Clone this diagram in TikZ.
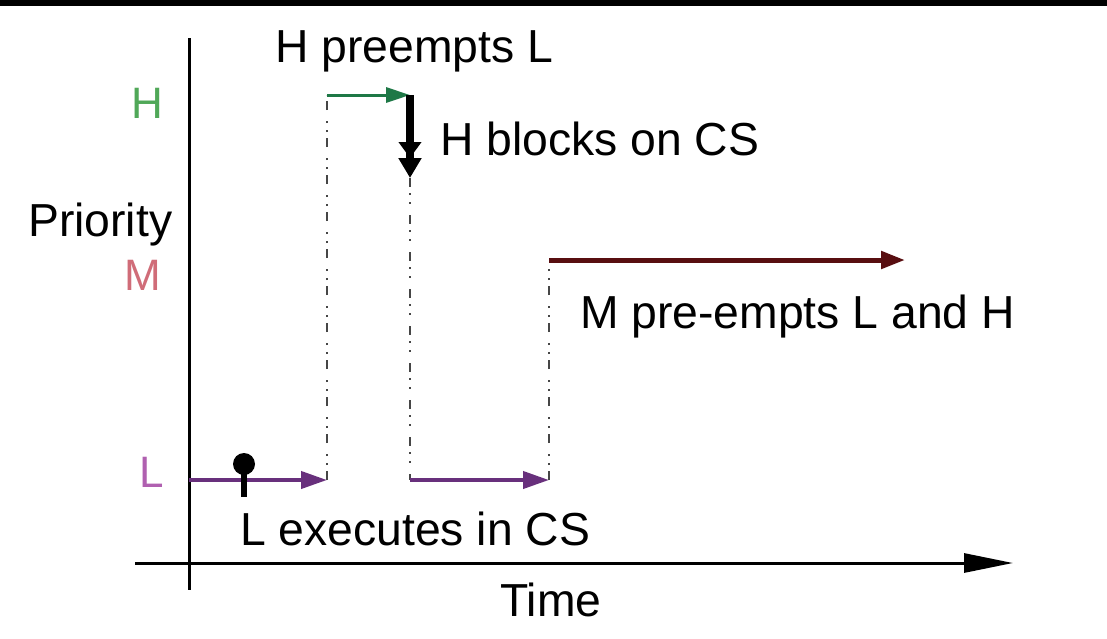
\documentclass[tikz,border=0pt]{standalone}
\usepackage{fontspec}
\setmainfont{Liberation Sans}
\usetikzlibrary{arrows.meta}
\definecolor{hlab}{RGB}{80,168,88}
\definecolor{mlab}{RGB}{208,108,120}
\definecolor{llab}{RGB}{176,96,176}
\definecolor{harr}{RGB}{30,120,70}
\definecolor{larr}{RGB}{104,48,124}
\definecolor{marr}{RGB}{88,14,16}
\definecolor{dashc}{RGB}{70,70,70}
\tikzset{
  txt/.style={anchor=base west,inner sep=0pt,font=\fontsize{46.3}{55}\selectfont},
  lev/.style={anchor=base west,inner sep=0pt,font=\fontsize{44}{52}\selectfont},
  axis/.style={line width=3pt,black},
  guide/.style={line width=2pt,dashc,dash pattern=on 9pt off 6pt on 2pt off 7pt on 2pt off 11pt},
  runarr/.style={line width=4pt,-{Triangle[length=26pt,width=17pt]}},
}
\begin{document}
\begin{tikzpicture}[x=1pt,y=-1pt]
\useasboundingbox (0,0) rectangle (1107,638);
\fill[white] (0,0) rectangle (1107,638);
\fill[black] (0,0) rectangle (1107,6);
% coordinates
\coordinate (ytop) at (189,38);
\coordinate (ybot) at (189,590);
\coordinate (xl) at (135,563);
\coordinate (xr) at (1013,563);
\coordinate (l0) at (189,480);
\coordinate (l1) at (327,480);
\coordinate (h0) at (327,95);
\coordinate (h1) at (410,95);
\coordinate (hb) at (410,178);
\coordinate (l2) at (410,480);
\coordinate (l3) at (549,480);
\coordinate (m0) at (549,260);
\coordinate (m1) at (905,260);
\coordinate (pin) at (244,464);
\coordinate (pinb) at (244,497);
% axes
\draw[axis] (ytop) -- (ybot);
\draw[axis,-{Triangle[length=49pt,width=19pt]}] (xl) -- (xr);
% guides
\draw[guide] (l1) -- (h0);
\draw[guide] (hb) -- (l2);
\draw[guide] (l3) -- (m0);
% runs
\draw[runarr,larr] (l0) -- (l1);
\draw[runarr,larr] (l2) -- (l3);
\draw[line width=3pt,harr,-{Triangle[length=24pt,width=15pt]}] (h0) -- (h1);
\draw[line width=8pt,black,-{Triangle[length=16pt,width=22pt]Triangle[length=20pt,width=22pt]}] (h1) -- (hb);
\draw[line width=5pt,marr,-{Triangle[length=24pt,width=17pt]}] (m0) -- (m1);
% pin
\draw[line width=6pt,black] (pin) -- (pinb);
\fill[black] (pin) circle (11pt);
% labels
\node[lev,text=hlab] (labH) at (131,118) {H};
\node[lev,text=mlab] (labM) at (124,290) {M};
\node[lev,text=llab] (labL) at (139,487) {L};
\node[txt] (prio) at (28,236) {Priority};
\node[txt] (hpre) at (275,62) {H preempts L};
\node[txt] (hblk) at (440,155) {H blocks on CS};
\node[txt] (mpre) at (580,328) {M pre-empts L and H};
\node[txt] (lexe) at (240,545) {L executes in CS};
\node[txt] (time) at (500,616) {Time};
\end{tikzpicture}
\end{document}
